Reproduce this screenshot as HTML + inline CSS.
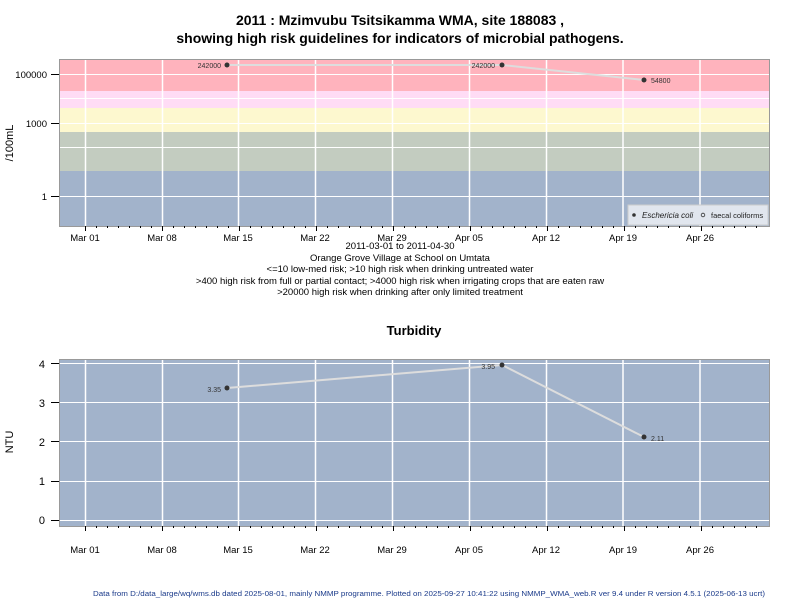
<!DOCTYPE html><html><head><style>body{margin:0;background:#fff}svg{font-family:"Liberation Sans",sans-serif}</style></head><body>
<svg width="800" height="600" viewBox="0 0 800 600" xmlns="http://www.w3.org/2000/svg">
<text x="400" y="25" text-anchor="middle" font-size="14" font-weight="bold">2011 : Mzimvubu Tsitsikamma WMA, site 188083 ,</text>
<text x="400" y="43" text-anchor="middle" font-size="14" font-weight="bold">showing high risk guidelines for indicators of microbial pathogens.</text>
<rect x="59" y="59" width="710" height="32" fill="#ffb3bd"/>
<rect x="59" y="91" width="710" height="17" fill="#ffdcf5"/>
<rect x="59" y="108" width="710" height="24" fill="#fdf8cf"/>
<rect x="59" y="132" width="710" height="39" fill="#c3ccc0"/>
<rect x="59" y="171" width="710" height="55" fill="#a2b3cb"/>
<g stroke="#fff" stroke-width="1"><line x1="59" x2="769" y1="74.5" y2="74.5"/><line x1="59" x2="769" y1="98.5" y2="98.5"/><line x1="59" x2="769" y1="123.5" y2="123.5"/><line x1="59" x2="769" y1="147.5" y2="147.5"/><line x1="59" x2="769" y1="196.5" y2="196.5"/></g>
<g stroke="#fff" stroke-width="1.5"><line x1="85.5" x2="85.5" y1="59" y2="226"/><line x1="162.5" x2="162.5" y1="59" y2="226"/><line x1="238.5" x2="238.5" y1="59" y2="226"/><line x1="315.5" x2="315.5" y1="59" y2="226"/><line x1="392.5" x2="392.5" y1="59" y2="226"/><line x1="469.5" x2="469.5" y1="59" y2="226"/><line x1="546.5" x2="546.5" y1="59" y2="226"/><line x1="623" x2="623" y1="59" y2="226"/><line x1="700" x2="700" y1="59" y2="226"/></g>
<rect x="59.5" y="59.5" width="710" height="167" fill="none" stroke="#999"/>
<polyline points="227,65 502,65 644,80" fill="none" stroke="#ddd" stroke-width="2"/>
<g fill="#333"><circle cx="227" cy="65" r="2.5"/><circle cx="502" cy="65" r="2.5"/><circle cx="644" cy="80" r="2.5"/></g>
<g font-size="7" fill="#333"><text x="221" y="68" text-anchor="end">242000</text><text x="495" y="68" text-anchor="end">242000</text><text x="651" y="83">54800</text></g>
<rect x="628" y="205" width="140" height="20" fill="#e1e6ee" stroke="#ccc"/>
<circle cx="634" cy="215" r="1.8" fill="#333"/><text x="642" y="218" font-size="8" font-style="italic" fill="#222">Eschericia coli</text>
<circle cx="703" cy="215" r="1.8" fill="none" stroke="#333" stroke-width="0.8"/><text x="711" y="218" font-size="7.5" fill="#222">faecal coliforms</text>
<g font-size="9.5" text-anchor="end" fill="#000"><text x="47" y="78">100000</text><text x="47" y="127">1000</text><text x="47" y="200">1</text></g>
<g stroke="#000"><line x1="51" x2="59" y1="74.5" y2="74.5"/><line x1="51" x2="59" y1="123.5" y2="123.5"/><line x1="51" x2="59" y1="196.5" y2="196.5"/></g>
<text transform="translate(13,143) rotate(-90)" text-anchor="middle" font-size="11">/100mL</text>
<g font-size="9.5" text-anchor="middle"><text x="85" y="241">Mar 01</text><text x="162" y="241">Mar 08</text><text x="238" y="241">Mar 15</text><text x="315" y="241">Mar 22</text><text x="392" y="241">Mar 29</text><text x="469" y="241">Apr 05</text><text x="546" y="241">Apr 12</text><text x="623" y="241">Apr 19</text><text x="700" y="241">Apr 26</text></g>
<g font-size="9.5" text-anchor="middle"><text x="400" y="249">2011-03-01 to 2011-04-30</text><text x="400" y="261">Orange Grove Village at School on Umtata</text><text x="400" y="272">&lt;=10 low-med risk; &gt;10 high risk when drinking untreated water</text><text x="400" y="284">&gt;400 high risk from full or partial contact; &gt;4000 high risk when irrigating crops that are eaten raw</text><text x="400" y="295">&gt;20000 high risk when drinking after only limited treatment</text></g>
<text x="414" y="335" text-anchor="middle" font-size="13" font-weight="bold">Turbidity</text>
<rect x="59" y="359" width="710" height="167" fill="#a2b3cb"/>
<g stroke="#fff"><line x1="59" x2="769" y1="363.5" y2="363.5"/><line x1="59" x2="769" y1="402.5" y2="402.5"/><line x1="59" x2="769" y1="441.5" y2="441.5"/><line x1="59" x2="769" y1="481.5" y2="481.5"/><line x1="59" x2="769" y1="520.5" y2="520.5"/></g>
<g stroke="#fff" stroke-width="1.5"><line x1="85.5" x2="85.5" y1="359" y2="526"/><line x1="162.5" x2="162.5" y1="359" y2="526"/><line x1="238.5" x2="238.5" y1="359" y2="526"/><line x1="315.5" x2="315.5" y1="359" y2="526"/><line x1="392.5" x2="392.5" y1="359" y2="526"/><line x1="469.5" x2="469.5" y1="359" y2="526"/><line x1="546.5" x2="546.5" y1="359" y2="526"/><line x1="623" x2="623" y1="359" y2="526"/><line x1="700" x2="700" y1="359" y2="526"/></g>
<rect x="59.5" y="359.5" width="710" height="167" fill="none" stroke="#999"/>
<polyline points="227,388 502,365 644,437" fill="none" stroke="#ddd" stroke-width="2"/>
<g fill="#333"><circle cx="227" cy="388" r="2.5"/><circle cx="502" cy="365" r="2.5"/><circle cx="644" cy="437" r="2.5"/></g>
<g font-size="7" fill="#333"><text x="221" y="392" text-anchor="end">3.35</text><text x="495" y="369" text-anchor="end">3.95</text><text x="651" y="441">2.11</text></g>
<g font-size="11" text-anchor="end"><text x="45" y="368">4</text><text x="45" y="407">3</text><text x="45" y="446">2</text><text x="45" y="485">1</text><text x="45" y="524">0</text></g>
<g stroke="#000"><line x1="51" x2="59" y1="363.5" y2="363.5"/><line x1="51" x2="59" y1="402.5" y2="402.5"/><line x1="51" x2="59" y1="441.5" y2="441.5"/><line x1="51" x2="59" y1="481.5" y2="481.5"/><line x1="51" x2="59" y1="520.5" y2="520.5"/></g>
<text transform="translate(13,442) rotate(-90)" text-anchor="middle" font-size="11">NTU</text>
<g font-size="9.5" text-anchor="middle"><text x="85" y="553">Mar 01</text><text x="162" y="553">Mar 08</text><text x="238" y="553">Mar 15</text><text x="315" y="553">Mar 22</text><text x="392" y="553">Mar 29</text><text x="469" y="553">Apr 05</text><text x="546" y="553">Apr 12</text><text x="623" y="553">Apr 19</text><text x="700" y="553">Apr 26</text></g>
<g stroke="#000" id="ticks"></g>
<text x="93" y="596" font-size="7" fill="#1a3a8a" textLength="672" lengthAdjust="spacingAndGlyphs">Data from D:/data_large/wq/wms.db dated 2025-08-01, mainly NMMP programme. Plotted on 2025-09-27 10:41:22 using NMMP_WMA_web.R ver 9.4 under R version 4.5.1 (2025-06-13 ucrt)</text>
</svg>
<script>
var g=document.getElementById('ticks');
for(var d=0;d<62;d++){var x=85.5+d*11;if(x>769)break;var maj=(d%7==0);
[226,526].forEach(function(y){var l=document.createElementNS('http://www.w3.org/2000/svg','line');l.setAttribute('x1',x);l.setAttribute('x2',x);l.setAttribute('y1',y);l.setAttribute('y2',y+(maj?5:2));g.appendChild(l);});}
</script>
</body></html>
